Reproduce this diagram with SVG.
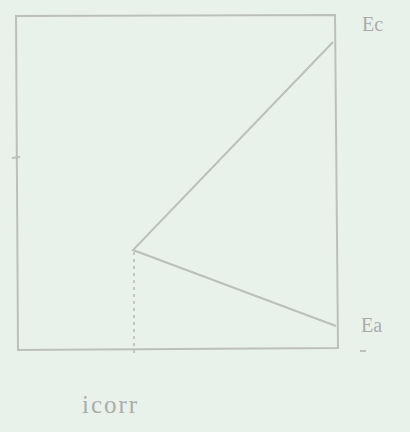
<svg xmlns="http://www.w3.org/2000/svg" width="410" height="432" viewBox="0 0 410 432">
<style>
.ln{fill:none;stroke:#bcc0bc;stroke-width:2}
.dt{fill:none;stroke:#c2c6c2;stroke-width:2;stroke-dasharray:3 4}
.lb{font-family:"Liberation Serif",serif;fill:#a9ada9}
</style>
<rect width="410" height="432" fill="#e9f1eb"/>
<g id="frame"><polygon class="ln" points="16,16 335,15 338,348 18,350"/></g>
<g id="connectors">
<polyline class="ln" points="333,42 133,250 336,326"/>
<line class="dt" x1="134" y1="252" x2="134" y2="356"/>
<line class="ln" x1="12" y1="158" x2="20" y2="157"/>
<line class="ln" x1="360" y1="351" x2="366" y2="351"/>
</g>
<g id="Ec"><text class="lb" x="362" y="31" font-size="20">Ec</text></g>
<g id="Ea"><text class="lb" x="361" y="332" font-size="20">Ea</text></g>
<g id="icorr"><text class="lb" x="82" y="413" font-size="25" letter-spacing="2">icorr</text></g>
</svg>
